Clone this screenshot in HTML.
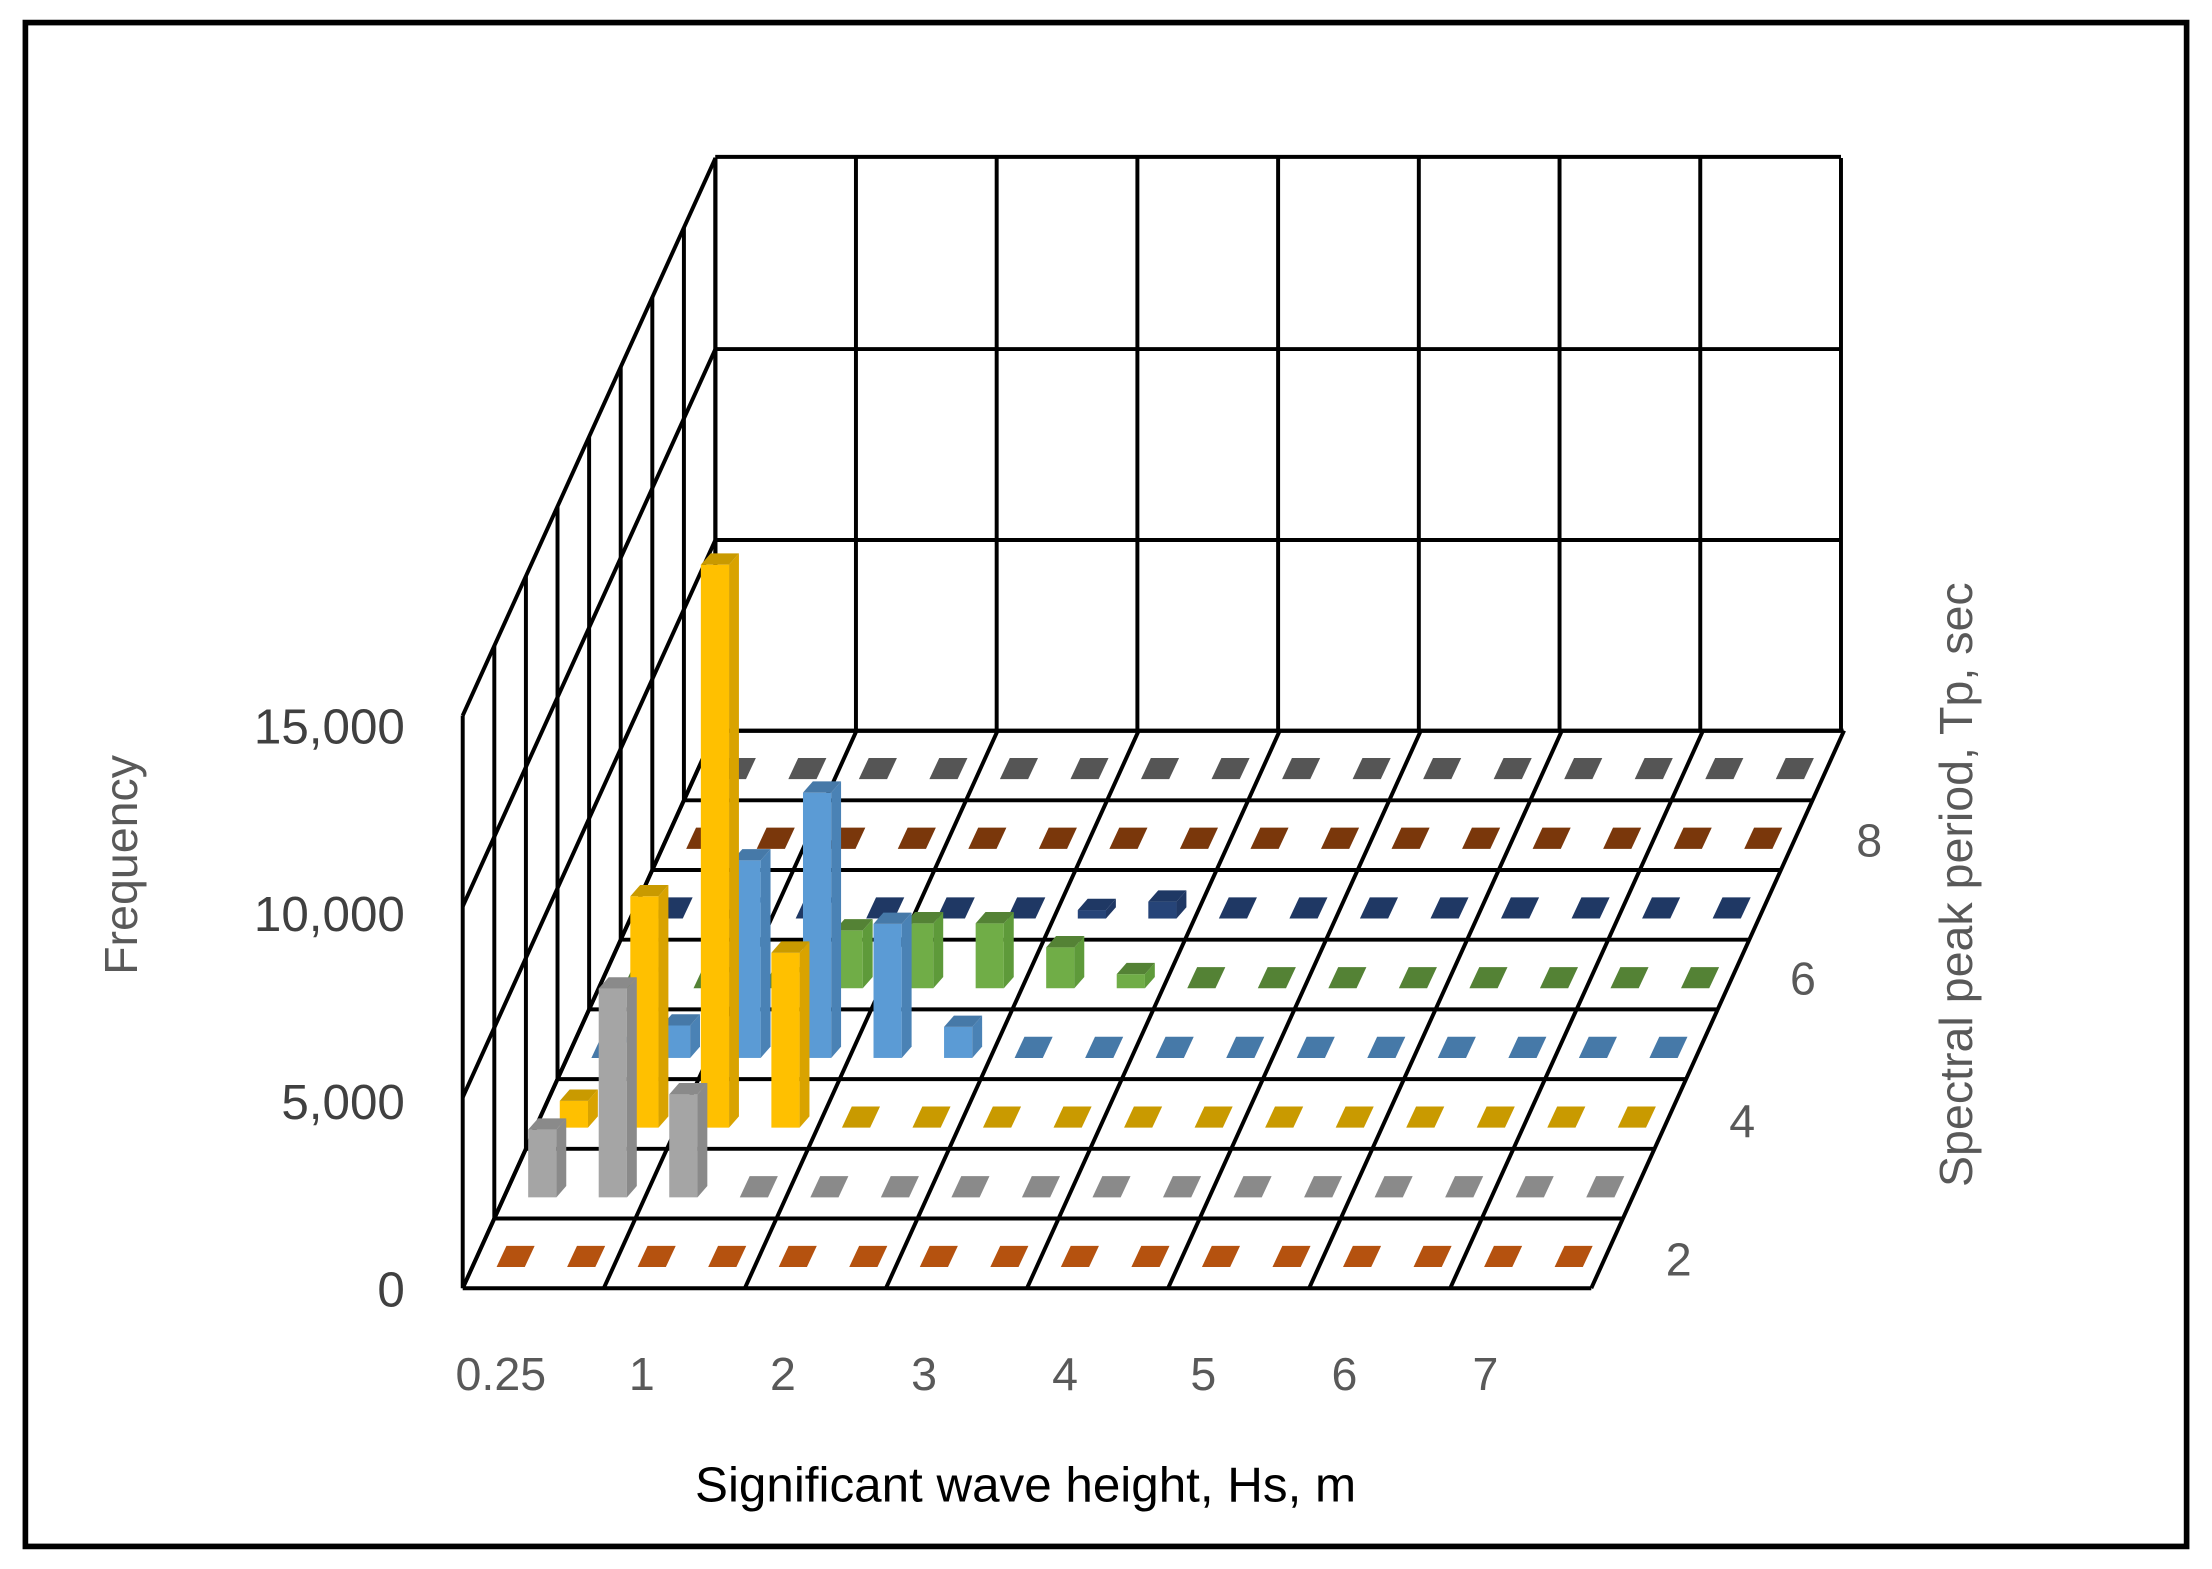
<!DOCTYPE html>
<html><head><meta charset="utf-8"><style>
html,body{margin:0;padding:0;background:#fff}
svg{display:block}
text{font-family:"Liberation Sans",sans-serif}
</style></head><body>
<svg id="s" width="2212" height="1569" viewBox="0 0 1568 1112" preserveAspectRatio="none" xmlns="http://www.w3.org/2000/svg">
<rect x="0" y="0" width="1568" height="1112" fill="#fff"/>
<rect x="18" y="16" width="1532" height="1080" fill="none" stroke="#000" stroke-width="4"/>
<g id="grid" stroke="#000" stroke-width="2.8" fill="none"></g>
<g id="bars"></g>
<g font-size="35" fill="#404040" text-anchor="end">
<text x="287" y="527">15,000</text>
<text x="287" y="660">10,000</text>
<text x="287" y="793">5,000</text>
<text x="287" y="926">0</text>
</g>
<text transform="translate(97,613) rotate(-90)" font-size="33" fill="#595959" text-anchor="middle">Frequency</text>
<g font-size="33" fill="#595959" text-anchor="middle">
<text x="355" y="985">0.25</text><text x="455" y="985">1</text><text x="555" y="985">2</text><text x="655" y="985">3</text>
<text x="755" y="985">4</text><text x="853" y="985">5</text><text x="953" y="985">6</text><text x="1053" y="985">7</text>
<text x="1325" y="607">8</text><text x="1278" y="705">6</text><text x="1235" y="806">4</text><text x="1190" y="904">2</text>
</g>
<text transform="translate(1398,627) rotate(-90)" font-size="33" fill="#595959" text-anchor="middle">Spectral peak period, Tp, sec</text>
<text x="727" y="1064" font-size="35" fill="#000" text-anchor="middle">Significant wave height, Hs, m</text>
</svg>
<script>
(function(){
var NS="http://www.w3.org/2000/svg";
var g=document.getElementById('grid'),b=document.getElementById('bars');
function el(p,t,a){var e=document.createElementNS(NS,t);for(var k in a)e.setAttribute(k,a[k]);p.appendChild(e);return e;}
function line(x1,y1,x2,y2){el(g,'line',{x1:x1,y1:y1,x2:x2,y2:y2});}
var X0=328,Y0=913,DX=22.4,DY=49.4,CW=100,R=8,C=8,H=135.3;
for(var i=0;i<=3;i++){line(507,518-i*H+ (i==3?-0.9:0),1305,518-i*H+(i==3?-0.9:0));}
for(var c=0;c<=8;c++){var x=507+c*99.75;line(x,112,x,518);}
for(var i=0;i<=3;i++){line(X0,Y0-i*H,X0+R*DX,Y0-i*H-R*DY);}
for(var k=0;k<=R;k++){var x=X0+k*DX;line(x,Y0-k*DY,x,Y0-k*DY-3*H);}
for(var k=0;k<=R;k++){line(X0+k*DX,Y0-k*DY,X0+k*DX+C*CW-k*0.05,Y0-k*DY);}
for(var c=0;c<=C;c++){line(X0+c*CW,Y0,X0+c*CW+R*DX,Y0-R*DY);}
var cols=[
 ['#c55a11','#b5520f','#b5520f'],
 ['#a5a5a5','#8a8a8a','#8a8a8a'],
 ['#ffc000','#d9a300','#c99a00'],
 ['#5b9bd5','#4a82b5','#4679a8'],
 ['#70ad47','#5e9a3a','#548235'],
 ['#264478','#203864','#1f3864'],
 ['#843c0c','#7a370b','#7a370b'],
 ['#636363','#555555','#555555']];
var hs={1:{0:48,1:148,2:73},2:{0:19,1:164,2:399,3:124},3:{1:23,2:140,3:188,4:95,5:22},4:{3:41,4:46,5:46,6:29,7:10},5:{6:6,7:12}};
var W=20,dx=7,dy=-8;
for(var k=R-1;k>=0;k--){
 var yb=Y0-k*DY-15;
 for(var j=0;j<16;j++){
  var x=X0+k*DX+24+50*j;
  var h=(hs[k]&&hs[k][j])||0;
  var cc=cols[k];
  if(h<4){
   el(b,'polygon',{points:[x,yb,x+W,yb,x+W+dx,yb-15,x+dx,yb-15].join(' '),fill:cc[2]});
  }else{
   var yt=yb-h;
   el(b,'rect',{x:x,y:yt,width:W,height:h,fill:cc[0]});
   el(b,'polygon',{points:[x+W,yb,x+W+dx,yb+dy,x+W+dx,yt+dy,x+W,yt].join(' '),fill:cc[1]});
   el(b,'polygon',{points:[x,yt,x+W,yt,x+W+dx,yt+dy,x+dx,yt+dy].join(' '),fill:cc[2]});
  }
 }
}
})();
</script>
</body></html>
